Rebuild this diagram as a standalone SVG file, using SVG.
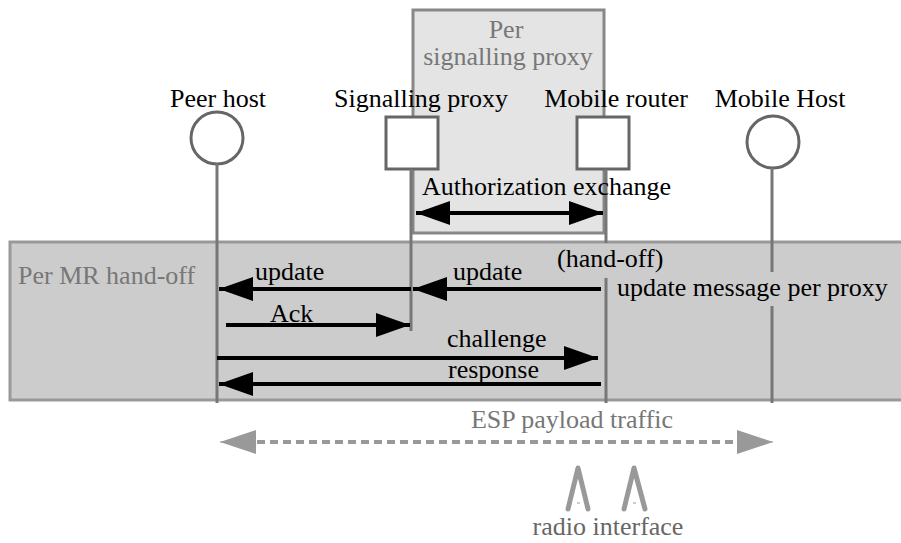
<svg xmlns="http://www.w3.org/2000/svg" width="901" height="543" viewBox="0 0 901 543" font-family="'Liberation Serif', 'DejaVu Serif', serif">
<style>
text{font-family:'Liberation Serif','DejaVu Serif',serif;font-size:26px;fill:#000}
.g{fill:#777}
.life{stroke:#777;stroke-width:3;fill:none}
.node{fill:#fff;stroke:#666;stroke-width:3}
.msg{stroke:#000;stroke-width:4;fill:none}
.ant{stroke:#999;stroke-width:5;fill:none;stroke-linecap:round;stroke-linejoin:round}
</style>
<defs>
<marker id="ah" markerUnits="userSpaceOnUse" viewBox="0 0 34 24" refX="34" refY="12" markerWidth="34" markerHeight="24" orient="auto-start-reverse">
<path d="M0,0 L34,12 L0,24 Z" fill="#000"/>
</marker>
<marker id="gh" markerUnits="userSpaceOnUse" viewBox="0 0 36 24" refX="36" refY="12" markerWidth="36" markerHeight="24" orient="auto-start-reverse">
<path d="M0,0 L36,12 L0,24 Z" fill="#999"/>
</marker>
</defs>
<rect width="901" height="543" fill="#fff"/>
<g id="per-signalling-proxy">
<rect x="413" y="10" width="191" height="223" fill="#e4e4e4" stroke="#888" stroke-width="3"/>
<text class="g" x="506" y="38" text-anchor="middle">Per</text>
<text class="g" x="508" y="65" text-anchor="middle">signalling proxy</text>
</g>
<g id="per-mr-handoff">
<rect x="10" y="242" width="900" height="158" fill="#cccccc" stroke="#999" stroke-width="3"/>
<text class="g" x="18" y="284">Per MR hand-off</text>
</g>
<g id="peer-host">
<text x="218" y="107" text-anchor="middle">Peer host</text>
<circle class="node" cx="217" cy="138" r="26"/>
<line class="life" x1="217" y1="164" x2="217" y2="403"/>
</g>
<g id="signalling-proxy">
<text x="421" y="107" text-anchor="middle">Signalling proxy</text>
<rect class="node" x="386" y="117" width="52" height="52"/>
<line class="life" x1="411" y1="169" x2="411" y2="331"/>
</g>
<g id="mobile-router">
<text x="616" y="107" text-anchor="middle">Mobile router</text>
<rect class="node" x="577" y="117" width="52" height="52"/>
<line class="life" x1="606" y1="169" x2="606" y2="243"/>
<line class="life" x1="606" y1="278" x2="606" y2="403"/>
</g>
<g id="mobile-host">
<text x="780" y="107" text-anchor="middle">Mobile Host</text>
<circle class="node" cx="773" cy="142" r="26"/>
<line class="life" x1="772" y1="168" x2="772" y2="272"/>
<line class="life" x1="772" y1="306" x2="772" y2="403"/>
</g>
<g id="connectors">
<line class="msg" x1="416" y1="213" x2="603" y2="213" stroke-width="5" marker-start="url(#ah)" marker-end="url(#ah)"/>
<text x="422" y="195">Authorization exchange</text>
<line class="msg" x1="411" y1="289" x2="219" y2="289" marker-end="url(#ah)"/>
<text x="255" y="280">update</text>
<line class="msg" x1="601" y1="289" x2="413" y2="289" marker-end="url(#ah)"/>
<text x="453" y="280">update</text>
<text x="557" y="267">(hand-off)</text>
<text x="617" y="296">update message per proxy</text>
<line class="msg" x1="226" y1="325" x2="410" y2="325" marker-end="url(#ah)"/>
<text x="270" y="322">Ack</text>
<line class="msg" x1="217" y1="358" x2="598" y2="358" marker-end="url(#ah)"/>
<text x="447" y="347">challenge</text>
<line class="msg" x1="601" y1="384" x2="219" y2="384" marker-end="url(#ah)"/>
<text x="448" y="378">response</text>
<line x1="257" y1="442" x2="737" y2="442" stroke="#999" stroke-width="4" stroke-dasharray="8 5"/>
<line x1="250" y1="442" x2="220" y2="442" stroke="#999" stroke-width="1" marker-end="url(#gh)"/>
<line x1="742" y1="442" x2="773" y2="442" stroke="#999" stroke-width="1" marker-end="url(#gh)"/>
<text class="g" x="572" y="428" text-anchor="middle">ESP payload traffic</text>
</g>
<g id="radio-interface">
<polyline class="ant" points="568,509 578,468 588,509"/>
<polyline class="ant" points="624,509 634,468 645,509"/>
<line x1="577" y1="503" x2="580" y2="503" stroke="#999" stroke-width="1"/>
<line x1="633" y1="503" x2="636" y2="503" stroke="#999" stroke-width="1"/>
<text class="g" x="608" y="535" text-anchor="middle" style="fill:#666">radio interface</text>
</g>
</svg>
